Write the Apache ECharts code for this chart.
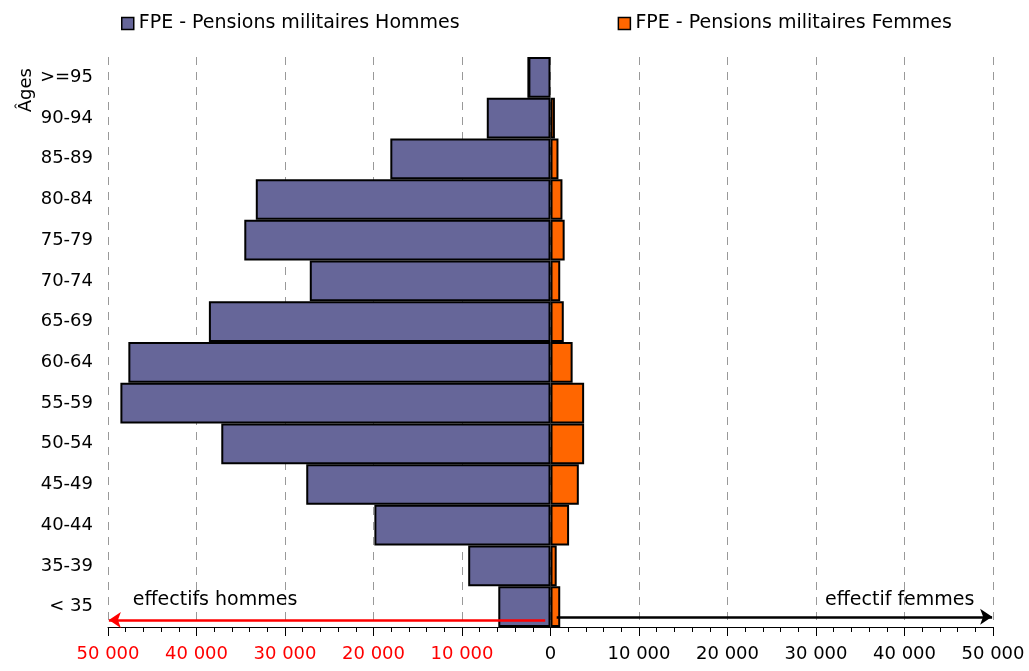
<!DOCTYPE html>
<html>
<head>
<meta charset="utf-8">
<script src="https://cdn.jsdelivr.net/npm/echarts@6/dist/echarts.min.js"></script>
<style>html,body{margin:0;padding:0;background:#fff}#c{width:1029px;height:671px}</style>
</head>
<body>
<div id="c"></div>
<script>
var categories = ['>=95','90-94','85-89','80-84','75-79','70-74','65-69','60-64','55-59','50-54','45-49','40-44','35-39','< 35'];
var hommes = [2500, 7200, 18100, 33300, 34600, 27200, 38600, 47700, 48600, 37200, 27600, 19900, 9300, 5900];
var femmes = [0, 500, 900, 1350, 1600, 1100, 1500, 2500, 3800, 3800, 3200, 2100, 700, 1100];
var seriesNames = ['FPE - Pensions militaires Hommes', 'FPE - Pensions militaires Femmes'];
var arrowLabels = ['effectifs hommes', 'effectif femmes'];

var FONT = 'DejaVu Sans';
function fmt(v){ return Math.abs(v).toString().replace(/\B(?=(\d{3})+(?!\d))/g, ' '); }

var chart = echarts.init(document.getElementById('c'), null, {renderer:'canvas'});
var option = {
  animation: false,
  textStyle: {fontFamily: FONT},
  legend: {
    top: 9, left: 116, itemGap: 158,
    icon: 'rect', itemWidth: 12, itemHeight: 12,
    itemStyle: {borderColor: '#000', borderWidth: 1.5},
    textStyle: {fontFamily: FONT, fontSize: 19, color: '#000'},
    data: seriesNames
  },
  grid: {left: 108, right: 36, top: 57, bottom: 44, containLabel: false},
  xAxis: {
    type: 'value', min: -50000, max: 50000, interval: 10000,
    axisLine: {show: true, onZero: false, lineStyle: {color: '#000', width: 1}},
    axisTick: {show: true, length: 9, lineStyle: {color: '#000'}},
    minorTick: {show: true, splitNumber: 5, length: 5, lineStyle: {color: '#000'}},
    splitLine: {show: true, lineStyle: {color: '#999', type: [8, 7], width: 1}},
    axisLabel: {
      margin: 18, fontFamily: FONT, fontSize: 18,
      formatter: function(v){ return fmt(v); },
      color: function(v){ return Number(v) < 0 ? '#FF0000' : '#000000'; }
    }
  },
  yAxis: [{
    type: 'category', inverse: true, data: categories,
    axisLine: {show: false}, axisTick: {show: false},
    axisLabel: {margin: 15, fontFamily: FONT, fontSize: 18, color: '#000'}
  }, {
    type: 'value', min: 0, max: 14, inverse: true, show: false
  }],
  series: [{
    name: seriesNames[0], type: 'bar', stack: 'pyr', barCategoryGap: '0%',
    data: hommes.map(function(v){ return -v; }),
    itemStyle: {color: '#666699', borderColor: '#000', borderWidth: 2}
  }, {
    name: seriesNames[1], type: 'bar', stack: 'pyr', barCategoryGap: '0%',
    data: femmes,
    itemStyle: {color: '#FF6600', borderColor: '#000', borderWidth: 2}
  }, {
    type: 'scatter', yAxisIndex: 1, symbolSize: 0, silent: true,
    itemStyle: {opacity: 1},
    data: [
      {value: [-47200, 13.34], label: {position: 'right'}},
      {value: [47900, 13.34], label: {position: 'left'}}
    ],
    label: {
      show: true, fontFamily: FONT, fontSize: 19, color: '#000000', opacity: 1, distance: 0,
      formatter: function(p){ return arrowLabels[p.dataIndex]; }
    },
    markLine: {
      silent: true, symbol: ['none', 'arrow'], symbolSize: [12, 12],
      label: {show: false},
      data: [
        [{coord: [-600, 13.83], lineStyle: {color: '#FF0000', width: 2.5, type: 'solid', opacity: 1}}, {coord: [-49900, 13.83]}],
        [{coord: [700, 13.75], lineStyle: {color: '#000000', width: 2.5, type: 'solid', opacity: 1}}, {coord: [49900, 13.75]}]
      ]
    }
  }],
  graphic: [{
    type: 'text', left: 17, top: 68, rotation: Math.PI / 2,
    style: {text: 'Âges', fontFamily: FONT, fontSize: 18, fill: '#000'}
  }]
};
chart.setOption(option);
</script>
</body>
</html>
